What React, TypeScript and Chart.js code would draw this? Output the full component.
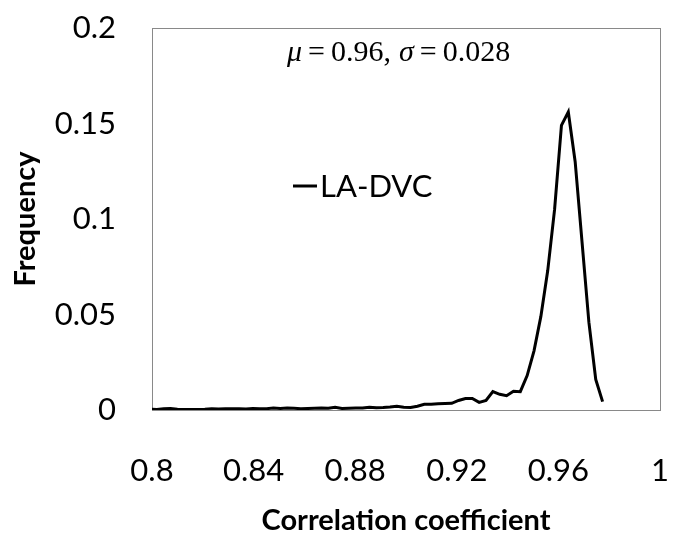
import React, { useEffect, useRef } from "react";
import { Chart, registerables } from "chart.js";

Chart.register(...registerables);

// Bin positions (correlation coefficient)
const correlation = [
  0.7992, 0.8019, 0.8046, 0.8073, 0.81, 0.8127, 0.8154, 0.8181, 0.8208, 0.8235,
  0.8262, 0.8289, 0.8316, 0.8343, 0.837, 0.8397, 0.8424, 0.8451, 0.8478, 0.8505,
  0.8532, 0.8559, 0.8586, 0.8613, 0.864, 0.8667, 0.8694, 0.8721, 0.8748, 0.8775,
  0.8802, 0.8829, 0.8856, 0.8883, 0.891, 0.8937, 0.8964, 0.8991, 0.9018, 0.9045,
  0.9072, 0.9099, 0.9126, 0.9153, 0.918, 0.9207, 0.9234, 0.9261, 0.9288, 0.9315,
  0.9342, 0.9369, 0.9396, 0.9423, 0.945, 0.9477, 0.9504, 0.9531, 0.9558, 0.9585,
  0.9612, 0.9639, 0.9666, 0.9693, 0.972, 0.9747, 0.9774,
];

// LA-DVC frequency
const frequency = [
  0.0004, 0.0003, 0.0006, 0.0008, 0.0004, 0.0003, 0.0002, 0.0003, 0.0004, 0.0006,
  0.0005, 0.0006, 0.0007, 0.0006, 0.0005, 0.0008, 0.0006, 0.0007, 0.001, 0.0008,
  0.0011, 0.0009, 0.0007, 0.0008, 0.0009, 0.001, 0.0009, 0.0014, 0.0008, 0.0009,
  0.001, 0.0011, 0.0015, 0.0012, 0.0013, 0.0016, 0.002, 0.0015, 0.0013, 0.002,
  0.003, 0.003, 0.0033, 0.0034, 0.0035, 0.005, 0.006, 0.006, 0.004, 0.005,
  0.0096, 0.0082, 0.0075, 0.0098, 0.0096, 0.018, 0.031, 0.049, 0.073, 0.105,
  0.149, 0.156, 0.13, 0.088, 0.046, 0.016, 0.0044,
];

const seriesName = "LA-DVC";
const xTicks = [0.8, 0.84, 0.88, 0.92, 0.96, 1];
const xTickLabels = ["0.8", "0.84", "0.88", "0.92", "0.96", "1"];
const yTicks = [0, 0.05, 0.1, 0.15, 0.2];
const yTickLabels = ["0", "0.05", "0.1", "0.15", "0.2"];
const xTitle = "Correlation coefficient";
const yTitle = "Frequency";
const statsParts: { text: string; italic: boolean }[] = [
  { text: "\u03BC", italic: true },
  { text: "=", italic: false },
  { text: "0.96,", italic: false },
  { text: "\u03C3", italic: true },
  { text: "=", italic: false },
  { text: "0.028", italic: false },
];

const SANS = "Lato, 'Open Sans', sans-serif";
const SERIF = "'Liberation Serif', 'DejaVu Serif', serif";

const overlayPlugin = {
  id: "overlay",
  beforeDatasetsDraw(chart: any) {
    const { ctx, chartArea } = chart;
    ctx.save();
    ctx.strokeStyle = "#898989";
    ctx.lineWidth = 1;
    ctx.strokeRect(
      Math.round(chartArea.left) + 0.5,
      Math.round(chartArea.top) + 0.5,
      Math.round(chartArea.right - chartArea.left),
      Math.round(chartArea.bottom - chartArea.top)
    );
    ctx.restore();
  },
  afterDraw(chart: any) {
    const { ctx, chartArea } = chart;
    ctx.save();
    // legend inside plot
    const lx = chartArea.left + 141;
    const ly = chartArea.top + 158;
    ctx.strokeStyle = "#000";
    ctx.lineWidth = 3;
    ctx.beginPath();
    ctx.moveTo(lx, ly);
    ctx.lineTo(lx + 24, ly);
    ctx.stroke();
    ctx.fillStyle = "#000";
    ctx.font = `31px ${SANS}`;
    ctx.textBaseline = "middle";
    ctx.textAlign = "left";
    ctx.fillText(seriesName, lx + 27, ly + 1);

    // statistics annotation
    let x = chartArea.left + 135;
    const baseY = chartArea.top + 33;
    ctx.textBaseline = "alphabetic";
    statsParts.forEach((p) => {
      ctx.font = `${p.italic ? "italic " : ""}30px ${SERIF}`;
      ctx.fillText(p.text, x, baseY);
      x += ctx.measureText(p.text).width + (p.text.endsWith(",") ? 8 : 6);
    });
    ctx.restore();
  },
};

function zeroPadding(scale: any) {
  scale.paddingLeft = 0;
  scale.paddingRight = 0;
  scale.paddingTop = 0;
  scale.paddingBottom = 0;
}

export default function App() {
  const canvasRef = useRef<HTMLCanvasElement | null>(null);

  useEffect(() => {
    const canvas = canvasRef.current;
    if (!canvas) return;
    const data = correlation.map((c, i) => ({ x: c, y: frequency[i] }));
    const chart = new Chart(canvas, {
      type: "line",
      data: {
        datasets: [
          {
            label: seriesName,
            data,
            borderColor: "#000",
            borderWidth: 3,
            pointRadius: 0,
            fill: false,
            tension: 0,
          },
        ],
      },
      options: {
        responsive: false,
        animation: false,
        layout: { padding: { top: 28, right: 13, left: 0, bottom: 0 } },
        plugins: {
          legend: { display: false },
          tooltip: { enabled: false },
        },
        scales: {
          x: {
            type: "linear",
            min: 0.8,
            max: 1,
            grid: { display: false, drawTicks: false },
            border: { display: false },
            afterFit(scale: any) {
              scale.height = 125;
              zeroPadding(scale);
            },
            afterBuildTicks(scale: any) {
              scale.ticks = xTicks.map((v) => ({ value: v }));
            },
            ticks: {
              padding: 42,
              maxRotation: 0,
              autoSkip: false,
              color: "#000",
              font: { family: SANS, size: 31 },
              callback: (_v: any, i: number) => xTickLabels[i],
            },
            title: {
              display: true,
              text: xTitle,
              color: "#000",
              font: { family: SANS, size: 29, weight: "bold" },
              padding: { top: 0, bottom: -3 },
            },
          },
          y: {
            type: "linear",
            min: 0,
            max: 0.2,
            grid: { display: false, drawTicks: false },
            border: { display: false },
            afterFit(scale: any) {
              scale.width = 152;
              zeroPadding(scale);
            },
            afterBuildTicks(scale: any) {
              scale.ticks = yTicks.map((v) => ({ value: v }));
            },
            ticks: {
              padding: 36,
              color: "#000",
              font: { family: SANS, size: 31 },
              callback: (_v: any, i: number) => yTickLabels[i],
            },
            title: {
              display: true,
              text: yTitle,
              color: "#000",
              font: { family: SANS, size: 29, weight: "bold" },
              padding: { top: 8, bottom: 0 },
            },
          },
        },
      },
      plugins: [overlayPlugin],
    });
    return () => chart.destroy();
  }, []);

  return (
    <div style={{ position: "fixed", left: 0, top: 0, width: 673, height: 535, background: "#fff" }}>
      <canvas ref={canvasRef} width={673} height={535} style={{ display: "block", width: 673, height: 535 }} />
    </div>
  );
}
